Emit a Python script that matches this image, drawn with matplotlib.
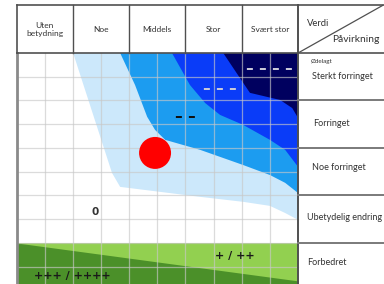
import matplotlib
matplotlib.use("Agg")
import matplotlib.pyplot as plt

# ---------------- data (grid units: x = half columns 0..10, y = rows 0..10, header 10..12)
value_labels = ["Uten\nbetydning", "Noe", "Middels", "Stor", "Svært stor"]
impact_labels = ["Forbedret", "Ubetydelig endring", "Noe forringet", "Forringet", "Sterkt forringet"]
impact_top = "Ødelagt"
header_value = "Verdi"
header_impact = "Påvirkning"

# lower-left boundaries of the consequence bands (each band fills up to the top-right corner)
light_x = [2.01, 3.39, 3.68, 6.52, 8.05, 9.00, 9.54, 10.0]
light_y = [10.0, 4.95, 4.36, 3.94, 3.73, 3.56, 3.26, 2.97]
medium_x = [3.68, 4.21, 4.64, 4.92, 5.28, 6.52, 8.05, 9.00, 9.54, 10.0]
medium_y = [10.0, 8.65, 7.31, 6.76, 6.34, 5.92, 5.28, 4.86, 4.53, 4.10]
strong_x = [5.52, 6.16, 6.70, 7.23, 8.05, 9.00, 9.54, 10.0]
strong_y = [10.0, 8.65, 7.89, 7.39, 6.97, 6.34, 5.92, 5.20]
severe_x = [7.34, 8.05, 8.29, 9.36, 9.79, 10.0]
severe_y = [10.0, 8.74, 8.32, 8.02, 7.68, 7.26]

# improvement band
green_x = [0.0, 10.0]
green_top = [2.0, 2.0]
dark_green_top = [2.0, 0.40]

# consequence scores
score_text = ["+++ / ++++", "+ / ++", "0", "– –", "– – –", "– – – –"]
score_x = [1.97, 7.76, 2.79, 5.99, 7.23, 8.97]
score_y = [0.62, 1.47, 3.31, 7.33, 8.50, 9.35]

# evaluated object
point_x = [4.92]
point_y = [5.79]

# ---------------- figure
fig = plt.figure(figsize=(3.84, 2.84), dpi=100)
ax = fig.add_axes([0, 0, 1, 1])
ax.set_xlim(-0.586, 13.05)
ax.set_ylim(0.27, 12.23)
ax.axis("off")

def band(xs, ys, color):
    pts = list(zip(xs, ys)) + [(10.0, 10.0)]
    ax.add_patch(plt.Polygon(pts, closed=True, facecolor=color, edgecolor="none", zorder=1))

band(light_x, light_y, "#cce8fb")
band(medium_x, medium_y, "#1c9cf0")
band(strong_x, strong_y, "#0a3cf8")
band(severe_x, severe_y, "#00005f")

ax.fill_between(green_x, 0, green_top, color="#92d050", lw=0, zorder=1)
ax.fill_between(green_x, 0, dark_green_top, color="#4b9029", lw=0, zorder=1)

# light grid
for gx in range(1, 10):
    ax.plot([gx, gx], [0, 10], color="#c8c8c8", lw=0.9, alpha=0.65, zorder=2)
for gy in range(1, 10):
    ax.plot([0, 10], [gy, gy], color="#c8c8c8", lw=0.9, alpha=0.65, zorder=2)

# frame
dark = "#505050"
ax.plot([0, 0], [0, 10], color="#8a8a8a", lw=2.0, zorder=3)
ax.plot([0, 0], [10, 12], color=dark, lw=1.2, zorder=3)
ax.plot([0, 13.05], [12, 12], color=dark, lw=1.2, zorder=3)
ax.plot([0, 13.05], [10, 10], color=dark, lw=1.2, zorder=3)
ax.plot([10, 10], [0, 12], color=dark, lw=1.4, zorder=3)
for c in range(1, 5):
    ax.plot([2 * c, 2 * c], [10, 12], color=dark, lw=1.0, zorder=3)
for gy in [2, 4, 6, 8]:
    ax.plot([10, 13.05], [gy, gy], color="#7a7a7a", lw=1.4, zorder=3)
ax.plot([10, 13.0], [10, 12], color=dark, lw=0.9, zorder=3)

font = "Lato"
txt = "#333333"
for i, lab in enumerate(value_labels):
    ax.text(2 * i + 1, 11.0, lab, ha="center", va="center", fontsize=6,
            family=font, color=txt, linespacing=1.1)

ax.text(10.32, 11.25, header_value, ha="left", va="center", fontsize=6.8, family=font, color=txt)
ax.text(11.2, 10.55, header_impact, ha="left", va="center", fontsize=7.4, family=font, color=txt)

ax.text(10.45, 9.62, impact_top, ha="left", va="center", fontsize=4.5, family=font, color=txt)
label_y = [1.16, 3.05, 5.16, 7.05, 8.99]
label_x = [10.33, 10.33, 10.48, 10.55, 10.48]
for lx, ly, lab in zip(label_x, label_y, impact_labels):
    ax.text(lx, ly, lab, ha="left", va="center", fontsize=6.5, family=font, color=txt)

# scores
score_color = ["#1a1a1a", "#1a1a1a", "#333333", "#111111", "#c8c8d8", "#c8c8d8"]
score_size = [8, 8, 7.5, 11, 11, 11]
for t, x, y, c, s in zip(score_text, score_x, score_y, score_color, score_size):
    ax.text(x, y, t, ha="center", va="center", fontsize=s, color=c,
            family="DejaVu Sans", fontweight="bold", zorder=5)

ax.scatter(point_x, point_y, s=530, color="#ff0000", edgecolors="none", zorder=6)

fig.savefig("out.png", dpi=100)
